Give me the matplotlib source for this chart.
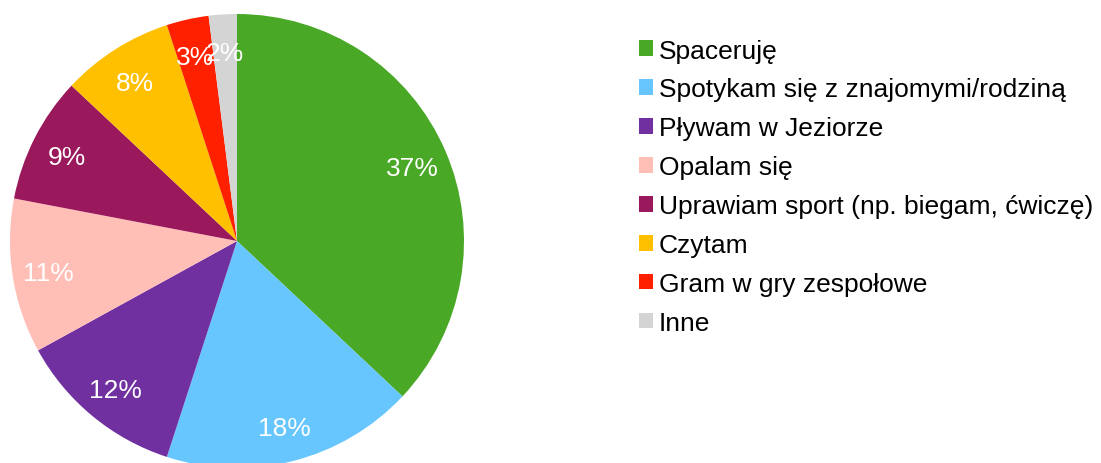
import matplotlib.pyplot as plt
from matplotlib.patches import Patch

plt.rcParams['font.family'] = ['Liberation Sans', 'DejaVu Sans']

# data (percent)
labels = ['Spaceruję', 'Spotykam się z znajomymi/rodziną', 'Pływam w Jeziorze',
          'Opalam się', 'Uprawiam sport (np. biegam, ćwiczę)', 'Czytam',
          'Gram w gry zespołowe', 'Inne']
values = [37, 18, 12, 11, 9, 8, 3, 2]
colors = ['#49a825', '#66c6fd', '#7030a0', '#ffbfb7', '#9a195c', '#ffc000',
          '#ff2000', '#d4d4d4']

W, H = 1101, 464
fig = plt.figure(figsize=(W / 100, H / 100), dpi=100)

# pie: center (237, 242) px, radius 227 px
cx, cy, r = 237, 242, 227
ax = fig.add_axes([(cx - r) / W, (H - cy - r) / H, 2 * r / W, 2 * r / H])
wedges, texts, autotexts = ax.pie(values, colors=colors, startangle=90, counterclock=False,
                                  autopct='%1.0f%%', pctdistance=0.84,
                                  wedgeprops=dict(linewidth=0),
                                  textprops=dict(color='white', fontsize=19))
for t in autotexts:
    t.set_va('center_baseline')
ax.set_xlim(-1, 1)
ax.set_ylim(-1, 1)
ax.axis('off')

# legend
handles = [Patch(facecolor=c, edgecolor='none') for c in colors]
fig.legend(handles, labels, loc='upper left', bbox_to_anchor=(628 / W, 1 - 29 / H),
           frameon=False, fontsize=19, handlelength=0.53, handleheight=0.53,
           handletextpad=0.23, labelspacing=0.565, borderaxespad=0)

fig.savefig('out.png', dpi=100)
